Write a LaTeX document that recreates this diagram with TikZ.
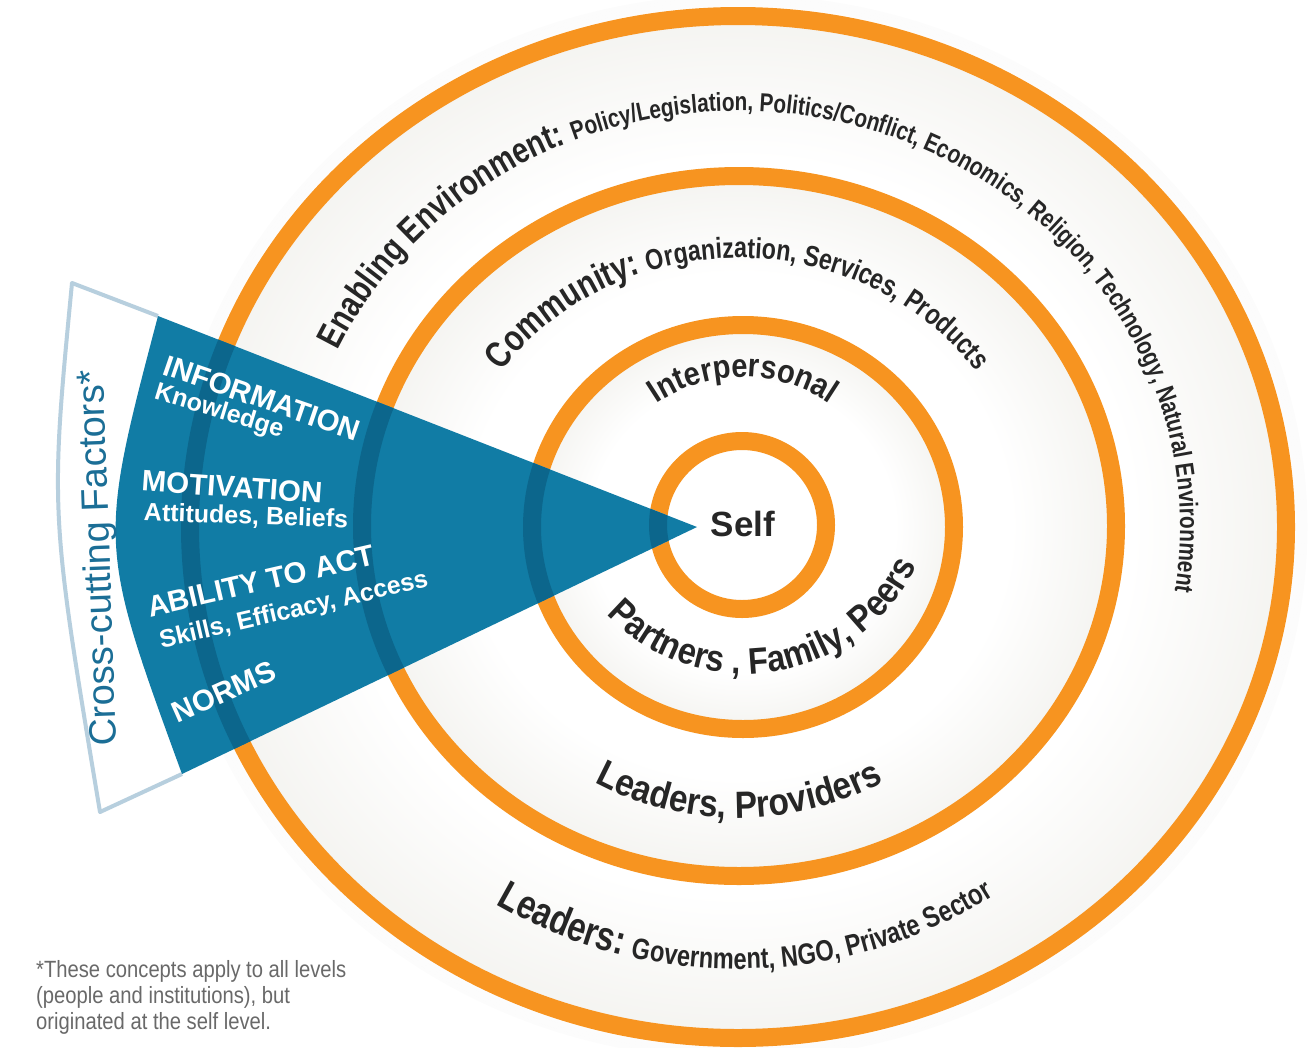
\documentclass[tikz,border=0pt]{standalone}
\usepackage{fontspec}
\setmainfont{Liberation Sans}
\newfontfamily\narrowsans{Liberation Sans}[FakeStretch=0.8]
\newfontfamily\semisans{Liberation Sans}[FakeStretch=0.88]
\newfontfamily\notesans{Liberation Sans}[FakeStretch=0.86]
\usetikzlibrary{decorations.text,calc}

\definecolor{ringorange}{RGB}{247,148,32}
\definecolor{wedgeblue}{RGB}{17,124,165}
\definecolor{wedgedark}{RGB}{12,102,140}
\definecolor{outlineblue}{RGB}{183,207,222}
\definecolor{factorblue}{RGB}{27,110,150}
\definecolor{inkdark}{RGB}{38,38,38}
\definecolor{notegray}{RGB}{105,105,105}
\definecolor{bandgray}{RGB}{235,234,228}

\pgfdeclareradialshading{bandshade}{\pgfpointorigin}{color(0bp)=(white); color(18bp)=(white); color(31bp)=(bandgray); color(50bp)=(bandgray)}

% type for the curved labels
\newcommand\envbig{\narrowsans\bfseries\fontsize{36}{36}\selectfont\color{inkdark}}
\newcommand\envsmall{\narrowsans\bfseries\fontsize{26}{26}\selectfont\color{inkdark}}
\newcommand\combig{\narrowsans\bfseries\fontsize{37}{37}\selectfont\color{inkdark}}
\newcommand\comsmall{\narrowsans\bfseries\fontsize{29}{29}\selectfont\color{inkdark}}
\newcommand\interfont{\semisans\bfseries\fontsize{33}{33}\selectfont\color{inkdark}}
\newcommand\pfpfont{\semisans\bfseries\fontsize{37}{37}\selectfont\color{inkdark}}
\newcommand\lpfont{\semisans\bfseries\fontsize{38}{38}\selectfont\color{inkdark}}
\newcommand\leadbig{\narrowsans\bfseries\fontsize{41}{41}\selectfont\color{inkdark}}
\newcommand\leadsmall{\narrowsans\bfseries\fontsize{29.5}{29.5}\selectfont\color{inkdark}}

\tikzset{
  ring/.style={draw=ringorange, line width=18},
  darkring/.style={draw=wedgedark, line width=18},
  headtext/.style={text=white, inner sep=0, font=\bfseries\fontsize{29.5}{29.5}\selectfont},
  subtext/.style={text=white, inner sep=0, font=\bfseries\fontsize{25}{25}\selectfont},
}

\begin{document}
\begin{tikzpicture}[x=1pt,y=-1pt]
\useasboundingbox (0,0) rectangle (1309,1047);
\fill[white] (0,0) rectangle (1309,1047);

% centres of the four rings
\coordinate (c0) at (738,527);
\coordinate (c1) at (739,526);
\coordinate (c2) at (743,527);
\coordinate (c3) at (742,525);

% faint halo round the outer disc
\foreach \k in {1,...,4}
  \draw[black, opacity=0.012, line width=3] (c0) ellipse[x radius=556+\k*3, y radius=519+\k*3];

% shaded bands
\shade[shading=bandshade] (c0) ellipse[x radius=548, y radius=511];
\shade[shading=bandshade] (c1) ellipse[x radius=377, y radius=350];
\shade[shading=bandshade] (c2) ellipse[x radius=211, y radius=202];
\fill[white] (c3) circle[radius=84];

% orange rings
\draw[ring] (c0) ellipse[x radius=548, y radius=511];
\draw[ring] (c1) ellipse[x radius=377, y radius=350];
\draw[ring] (c2) ellipse[x radius=211, y radius=202];
\draw[ring] (c3) circle[radius=84];

% curved labels
\path[decorate, decoration={text along path, text align=center,
  text={|\envbig|Enabling Environment: |\envsmall|Policy/Legislation, Politics/Conflict, Economics, Religion, Technology, Natural Environment}}]
  ($(c0)+(-162:442 and 416)$) arc[start angle=-162, end angle=16, x radius=442, y radius=416];

\path[decorate, decoration={text along path, text align=center,
  text={|\combig|Community: |\comsmall|Organization, Services, Products}}]
  ($(c1)+(-155:290 and 268)$) arc[start angle=-155, end angle=-25, x radius=290, y radius=268];

\path[decorate, decoration={text along path, text align=center,
  text={|\interfont|Interpersonal}}]
  ($(c2)+(-140:152 and 150)$) arc[start angle=-140, end angle=-40, x radius=152, y radius=150];

\coordinate (pc) at (745,484);
\path[decorate, decoration={text along path, text align=center,
  text={|\pfpfont|Partners , Family, Peers}}]
  ($(pc)+(150:190)$) arc[start angle=150, end angle=12, radius=190];

\path[decorate, decoration={text along path, text align=center,
  text={|\lpfont|Leaders, Providers}}]
  ($(c1)+(130:300 and 292)$) arc[start angle=130, end angle=50, x radius=300, y radius=292];

\path[decorate, decoration={text along path, text align=center,
  text={|\leadbig|Leaders: |\leadsmall|Government, NGO, Private Sector}}]
  ($(c0)+(135:464 and 442)$) arc[start angle=135, end angle=43, x radius=464, y radius=442];

\node[font=\bfseries\fontsize{35}{35}\selectfont, text=inkdark] (self) at (743,524) {Self};

% cross-cutting factors: outlined sector and blue wedge
\coordinate (apex) at (697,527);
\coordinate (wt) at (158,316);
\coordinate (wb) at (182,774);
\coordinate (wc) at (98,544);
\coordinate (ot) at (72,283);
\coordinate (ob) at (100,812);
\coordinate (oc) at (50,512);

\fill[white] (apex) -- (ot) .. controls (oc) .. (ob) -- cycle;
\draw[outlineblue, line width=4, line join=round] (wt) -- (ot) .. controls (oc) .. (ob) -- (wb);

\fill[wedgeblue] (apex) -- (wt) .. controls (wc) .. (wb) -- cycle;
\begin{scope}
  \clip (apex) -- (wt) .. controls (wc) .. (wb) -- cycle;
  \draw[darkring] (c0) ellipse[x radius=548, y radius=511];
  \draw[darkring] (c1) ellipse[x radius=377, y radius=350];
  \draw[darkring] (c2) ellipse[x radius=211, y radius=202];
  \draw[darkring] (c3) circle[radius=84];
\end{scope}

\node[headtext, rotate=-19] (info) at (262,398) {INFORMATION};
\node[subtext, rotate=-17] (know) at (219,412) {Knowledge};
\node[headtext, rotate=-4] (moti) at (232,487) {MOTIVATION};
\node[subtext, rotate=-2] (atti) at (246,517) {Attitudes, Beliefs};
\node[headtext, rotate=13] (abil) at (261,581) {ABILITY TO ACT};
\node[subtext, rotate=13] (skil) at (294,611) {Skills, Efficacy, Access};
\node[headtext, rotate=24] (norm) at (224,692) {NORMS};

\node[text=factorblue, font=\fontsize{38}{38}\selectfont, rotate=92, inner sep=0] (cross) at (100,558) {Cross-cutting Factors*};

% footnote
\node[anchor=north west, align=left, inner sep=0, text=notegray,
  font=\notesans\fontsize{23.5}{26}\selectfont] (note) at (36,960)
  {*These concepts apply to all levels\\(people and institutions), but\\originated at the self level.};
\end{tikzpicture}
\end{document}
